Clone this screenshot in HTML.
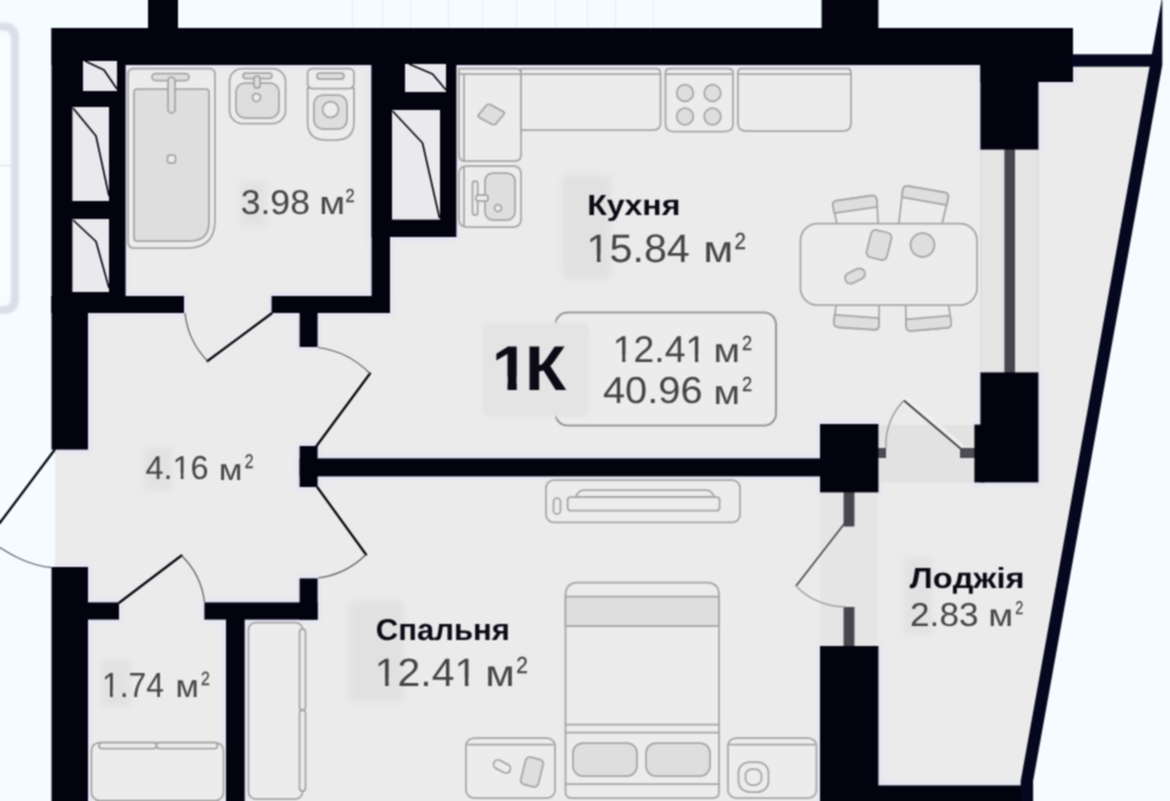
<!DOCTYPE html>
<html lang="uk">
<head>
<meta charset="utf-8">
<title>1K — 40.96 м²</title>
<style>
html,body{margin:0;padding:0;background:#f4fcff;overflow:hidden}
body{width:1170px;height:801px;position:relative;font-family:"Liberation Sans",sans-serif}
svg{display:block;position:absolute;left:0;top:0}
.w{fill:#03030f}
.f{fill:none;stroke:#a5a5a5;stroke-width:1.75;stroke-linejoin:round;stroke-linecap:round}
.ff{fill:#dedede;stroke:#a5a5a5;stroke-width:1.75;stroke-linejoin:round}
.fl{fill:#ececec;stroke:#a5a5a5;stroke-width:1.75;stroke-linejoin:round}
.dl{fill:none;stroke:#05050f;stroke-width:2.3;stroke-linecap:round}
.da{fill:none;stroke:#5c5c62;stroke-width:1.2}
.sl{fill:none;stroke:#06060f;stroke-width:1.7;stroke-linejoin:round}
text{font-kerning:none;text-rendering:geometricPrecision}
.t{font-family:"Liberation Sans",sans-serif;fill:#454548}
.tb{font-family:"Liberation Sans",sans-serif;font-weight:bold;fill:#0b0b16}
</style>
</head>
<body>
<svg width="1170" height="801" viewBox="0 0 1170 801">
<defs>
<filter id="b1" filterUnits="userSpaceOnUse" x="0" y="0" width="1170" height="801" color-interpolation-filters="sRGB"><feConvolveMatrix order="3" kernelMatrix="1 2 1 2 4 2 1 2 1" divisor="16" edgeMode="duplicate" preserveAlpha="true"/></filter>
<filter id="b2" x="-10%" y="-10%" width="120%" height="120%"><feGaussianBlur stdDeviation="1.5"/></filter>
<filter id="bL" filterUnits="userSpaceOnUse" x="-20" y="0" width="70" height="340"><feGaussianBlur stdDeviation="1.300"/></filter>
<filter id="b3" x="-30%" y="-30%" width="160%" height="160%"><feGaussianBlur stdDeviation="3"/></filter>
</defs>
<g id="scene" filter="url(#b1)">
<rect x="-5" y="-5" width="1180" height="811" fill="#f4fcff"/>
<defs>
<clipPath id="cf"><path d="M53 28 H1073 V60 H1151.5 L1021 783 V801 H53 V567 H55 V450 H53 Z"/></clipPath>
</defs>
<!-- background details: neighbouring balcony outline + faint grid -->
<g fill="none" stroke="#d9dee7" stroke-width="8" filter="url(#bL)">
<path d="M-10 26.5 H3 Q15 26.5 15 39 V298 Q15 310 3 310 H-10" fill="#f7fcff"/>
</g>
<path d="M-5 165.5 H12" stroke="#e3e7ee" stroke-width="1.5" fill="none"/>
<g stroke="#e6edf5" stroke-width="1" fill="none">
<path d="M352.5 0V28M382.5 0V28M410.5 0V28M448.5 0V28M482.5 0V28M516.5 0V28M555.5 0V28M587.5 0V28M615.5 0V28M653.5 0V28"/>
</g>
<!-- floor -->
<path d="M53 28 H1073 V60 H1151.5 L1021 783 V801 H53 V567 H55 V450 H53 Z" fill="#ebebeb"/>
<g clip-path="url(#cf)"><g fill="none" stroke="#e4e4f6" stroke-width="7" stroke-linejoin="round" filter="url(#b2)" opacity="0.9">
<rect x="148" y="-2" width="30" height="31"/>
<rect x="821.6" y="-2" width="56.8" height="31"/>
<rect x="51.5" y="28" width="1021.5" height="37"/>
<rect x="980.4" y="28" width="92.6" height="54"/>
<rect x="980.4" y="28" width="58" height="121.6"/>
<rect x="51.5" y="28" width="74.1" height="285"/>
<rect x="51.5" y="296" width="132.5" height="17"/>
<rect x="51.5" y="296" width="36.5" height="153.6"/>
<rect x="271.6" y="296" width="118.4" height="17"/>
<rect x="371.6" y="28" width="84.8" height="209"/>
<rect x="371.6" y="28" width="18.4" height="285"/>
<rect x="299.6" y="312" width="18" height="35"/>
<rect x="299.6" y="446" width="18" height="41"/>
<rect x="299.6" y="458.4" width="521" height="18"/>
<rect x="820" y="424" width="58.4" height="68.4"/>
<rect x="980.4" y="372.4" width="58" height="110"/>
<rect x="974.4" y="424.6" width="10" height="57.8"/>
<rect x="820" y="646" width="58.4" height="156"/>
<rect x="878" y="785.4" width="154.8" height="17"/>
<rect x="51.5" y="567" width="36.5" height="235"/>
<rect x="87" y="602.4" width="32" height="17.2"/>
<rect x="204.4" y="602.4" width="113.2" height="17.2"/>
<rect x="299.6" y="578.4" width="18" height="41.2"/>
<rect x="226" y="619" width="18.7" height="183"/>
</g></g>
<!-- window kitchen / loggia -->
<rect x="980.4" y="149" width="58" height="224" fill="#e4e4e4"/>
<path d="M980.9 149V373M1037.9 149V373" stroke="#d9d9d9" stroke-width="1" fill="none"/>
<rect x="1004.4" y="149" width="10.6" height="224" fill="#46464e"/>
<!-- balcony door kitchen -->
<rect x="879" y="425" width="96" height="57.4" fill="#e2e2e2"/>
<rect x="878" y="448" width="8" height="10" fill="#4c4c52"/>
<rect x="960" y="448" width="15" height="10" fill="#4c4c52"/>
<!-- balcony door bedroom -->
<rect x="820" y="492" width="57.5" height="155" fill="#e5e5e5"/>
<rect x="843.6" y="492" width="10.8" height="34.5" fill="#46464e"/>
<rect x="843.6" y="607" width="10.8" height="40" fill="#46464e"/>
<!-- bathroom fixtures -->
<g>
<path class="fl" d="M134 68.5 H209 Q215 68.5 215 74.5 V220 Q215 248 187 248 H134 Q128 248 128 242 V74.5 Q128 68.5 134 68.5 Z" fill="#e9e9e9"/>
<path class="ff" d="M137 89 H206 Q209 89 209 92 V222 Q209 241 190 241 H137 Q134 241 134 238 V92 Q134 89 137 89 Z"/>
<rect class="ff" x="152" y="73.5" width="37" height="7" rx="3.5"/>
<rect class="ff" x="168" y="77" width="7" height="36" rx="3.5"/>
<rect class="fl" x="167.500" y="155" width="8" height="8" rx="2.500"/>
<rect class="fl" x="229.5" y="68.5" width="56" height="55" rx="13"/>
<rect class="ff" x="236" y="83" width="43" height="35" rx="9"/>
<rect class="ff" x="243" y="73" width="29" height="5.5" rx="2.7"/>
<rect class="ff" x="254" y="76" width="6" height="12" rx="3"/>
<circle class="fl" cx="256.5" cy="97.5" r="4"/>
<path class="fl" d="M307.6 88 H354 V122 Q354 140 336 140 H325.6 Q307.6 140 307.6 122 Z"/>
<rect class="fl" x="307.6" y="68.5" width="46.4" height="20" rx="5"/>
<rect class="ff" x="317" y="73" width="27" height="6" rx="3"/>
<rect class="ff" x="314" y="95" width="33" height="34" rx="9"/>
<circle class="fl" cx="330.5" cy="109.5" r="8"/>
</g>
<!-- kitchen units -->
<g>
<path class="fl" d="M459 68.5 H516 Q521 68.5 521 73 V155 Q521 161 515 161 H465 Q459 161 459 155 Z"/>
<path class="fl" d="M521 68.5 H656 Q660.5 68.5 660.5 73 V123 Q660.5 130 653 130 H521 Z"/>
<path class="f" d="M459 74 H660.5 M464 74 V161"/>
<rect class="ff" x="-9.800" y="-8.300" width="19.600" height="16.600" rx="3" transform="translate(491.200 114.500) rotate(28) skewX(-12)"/>
<path class="fl" d="M670 68.5 H728 Q733 68.5 733 73 V124 Q733 131.5 725 131.5 H673.5 Q665.5 131.5 665.5 124 V73 Q665.5 68.5 670 68.5 Z"/>
<path class="f" d="M665.5 74 H733"/>
<circle class="ff" cx="685" cy="93" r="8.3"/><circle class="ff" cx="712.5" cy="93" r="8.3"/>
<circle class="ff" cx="685" cy="116.5" r="8.3"/><circle class="ff" cx="712.5" cy="116.5" r="8.3"/>
<path class="fl" d="M742 68.5 H847 Q851 68.5 851 73 V123 Q851 131 843 131 H746 Q738 131 738 123 V73 Q738 68.5 742 68.5 Z"/>
<path class="f" d="M738 74 H851"/>
<rect class="fl" x="459" y="166" width="62" height="61" rx="7"/>
<path class="f" d="M464 167 V226"/>
<rect class="ff" x="485" y="173" width="30" height="47" rx="8"/>
<rect class="fl" x="472.5" y="181" width="5.2" height="34" rx="2.6"/>
<rect class="fl" x="476" y="195" width="12" height="6" rx="2"/>
<circle class="fl" cx="498" cy="208" r="3.5"/>
</g>
<!-- dining table -->
<g>
<g transform="translate(856 211) rotate(-8) scale(0.96 1)">
<path class="fl" d="M-21 16 L-23 -8 Q-23.500 -13 -18 -13 H18 Q23.500 -13 23 -8 L21 16"/>
<path class="ff" d="M-23 -8 Q-23.500 -13 -18 -13 H18 Q23.500 -13 23 -8 L22.700 -1 H-22.700 Z"/>
</g>
<g transform="translate(923 208) rotate(10)">
<path class="fl" d="M-21 22 L-23 -14 Q-23.500 -19 -18 -19 H18 Q23.500 -19 23 -14 L21 22"/>
<path class="ff" d="M-23 -14 Q-23.500 -19 -18 -19 H18 Q23.500 -19 23 -14 L22.700 -7 H-22.700 Z"/>
</g>
<g transform="translate(857 315.500) rotate(4) scale(0.96 1)">
<path class="fl" d="M-22 -16 L-23.500 8 Q-24 13 -18 13 H18 Q24 13 23.500 8 L22 -16"/>
<path class="ff" d="M-23.500 8 Q-24 13 -18 13 H18 Q24 13 23.500 8 L23.200 1 H-23.200 Z"/>
</g>
<g transform="translate(928 316.500) rotate(-5) scale(0.96 1)">
<path class="fl" d="M-22 -16 L-23.500 8 Q-24 13 -18 13 H18 Q24 13 23.500 8 L22 -16"/>
<path class="ff" d="M-23.500 8 Q-24 13 -18 13 H18 Q24 13 23.500 8 L23.200 1 H-23.200 Z"/>
</g>
<rect class="fl" x="800.5" y="223.600" width="176.500" height="81.400" rx="17"/>
<rect class="ff" x="-10.500" y="-14" width="21" height="28" rx="5" transform="translate(879 245) rotate(14)"/>
<circle class="ff" cx="922.500" cy="245" r="12"/>
<rect class="ff" x="-10.500" y="-5.500" width="21" height="11" rx="5.500" transform="translate(855 276) rotate(-26)"/>
</g>
<!-- summary box -->
<rect x="555.500" y="312.500" width="220.500" height="113" rx="12" fill="#ececec" stroke="#989898" stroke-width="2.100"/>
<!-- tv unit -->
<g>
<rect class="fl" x="546" y="480" width="194" height="42.400" rx="8"/>
<path class="fl" d="M576 497 Q578 490 584 490 H706 Q712 490 714 497 Z"/>
<rect class="fl" x="567.600" y="497" width="152" height="13.500" rx="3"/>
<rect class="fl" x="553.500" y="498" width="7" height="16" rx="3.500"/>
</g>
<!-- bed -->
<g>
<path class="fl" d="M565.500 792 V595 Q565.500 582.500 578 582.500 H706.500 Q719 582.500 719 595 V792 Q719 798 713 798 H571.500 Q565.500 798 565.500 792 Z"/>
<rect class="ff" x="565.500" y="596.500" width="153.500" height="29.500"/>
<path class="f" d="M565.500 724.600 H719 M565.500 732.600 H719 M565.500 784 H719"/>
<rect class="ff" x="573" y="743" width="64" height="33" rx="10"/>
<rect class="ff" x="646" y="743" width="64" height="33" rx="10"/>
<rect class="fl" x="466" y="738" width="89" height="60" rx="8"/>
<path class="f" d="M468 744.500 H553"/>
<rect class="fl" x="-9" y="-4.500" width="18" height="9" rx="4.500" transform="translate(502 766.500) rotate(28)"/>
<rect class="ff" x="-9" y="-14" width="18" height="28" rx="4" transform="translate(532 772) rotate(14)"/>
<rect class="fl" x="728" y="738" width="88.400" height="60" rx="8"/>
<path class="f" d="M730 744.500 H814.500"/>
<rect class="fl" x="738.500" y="762" width="30" height="30" rx="11"/>
<rect class="fl" x="745.500" y="769" width="16" height="16" rx="6.500"/>
</g>
<!-- wardrobe + bench -->
<g>
<rect class="fl" x="248.500" y="622.500" width="54" height="176.500" rx="7"/>
<rect class="fl" x="299.500" y="629" width="6" height="81" rx="3"/>
<rect class="fl" x="299.500" y="710" width="6" height="81" rx="3"/>
<rect class="fl" x="91.500" y="742.500" width="132" height="58" rx="8" stroke="#a4a4ad"/>
<rect class="fl" x="99" y="742.500" width="57.500" height="6" rx="3"/>
<rect class="fl" x="156.500" y="742.500" width="61" height="6" rx="3"/>
</g>
<!-- walls -->
<g class="w">
<rect x="148" y="-2" width="30" height="31"/>
<rect x="821.6" y="-2" width="56.8" height="31"/>
<rect x="51.5" y="28" width="1021.5" height="37"/>
<rect x="980.4" y="28" width="92.6" height="54"/>
<rect x="980.4" y="28" width="58" height="121.6"/>
<rect x="51.5" y="28" width="74.1" height="285"/>
<rect x="51.5" y="296" width="132.5" height="17"/>
<rect x="51.5" y="296" width="36.5" height="153.6"/>
<rect x="271.6" y="296" width="118.4" height="17"/>
<rect x="371.6" y="28" width="84.8" height="209"/>
<rect x="371.6" y="28" width="18.4" height="285"/>
<rect x="299.6" y="312" width="18" height="35"/>
<rect x="299.6" y="446" width="18" height="41"/>
<rect x="299.6" y="458.4" width="521" height="18"/>
<rect x="820" y="424" width="58.4" height="68.4"/>
<rect x="980.4" y="372.4" width="58" height="110"/>
<rect x="974.4" y="424.6" width="10" height="57.8"/>
<rect x="820" y="646" width="58.4" height="156"/>
<rect x="878" y="785.4" width="154.8" height="17"/>
<rect x="51.5" y="567" width="36.5" height="235"/>
<rect x="87" y="602.4" width="32" height="17.2"/>
<rect x="204.4" y="602.4" width="113.2" height="17.2"/>
<rect x="299.6" y="578.4" width="18" height="41.2"/>
<rect x="226" y="619" width="18.7" height="183"/>
</g>
<rect x="1072" y="54.300" width="80" height="12.400" fill="#05081e"/>
<path d="M1162 -2 L1162.300 -2 L1162.300 65 L1033.100 781 L1033.100 801 L1020.700 801 L1020.700 781 Z" fill="#05081e"/>
<!-- shafts -->
<g fill="#e9e9ee">
<rect x="83" y="61" width="34" height="30"/>
<rect x="72.4" y="107" width="36.6" height="94"/>
<rect x="72.4" y="219" width="36.6" height="73"/>
<rect x="405" y="64" width="41" height="28"/>
<rect x="392" y="110" width="48" height="109.6"/>
</g>
<g class="sl">
<path d="M85 61 L104 70 L117 89"/>
<path d="M73 108 L96 136 L109 196"/>
<path d="M73 220 L96 241.5 L109 288"/>
<path d="M409 64 L432.5 74 L446 90"/>
<path d="M392.5 111 L422.5 143 L439.5 218"/>
</g>
<!-- doors -->
<g>
<path class="dl" d="M54.500 450 L-17.500 546"/>
<path class="da" d="M-10 541 C5 551 25 565 52 567.600"/>
<path class="dl" d="M271.500 313.500 L207.500 361"/>
<path class="da" d="M207.500 361 A81 81 0 0 1 185 313"/>
<path class="dl" d="M316.500 446 L370 373.500"/>
<path class="da" d="M370 373.500 A90 90 0 0 0 318 347.500"/>
<path class="dl" d="M317.500 487.500 L366 554.500"/>
<path class="da" d="M366 554.500 A83 83 0 0 1 318 578"/>
<path class="dl" d="M119.500 602.500 L181.500 555.500"/>
<path class="da" d="M181.500 555.500 A78 78 0 0 1 204.500 602"/>
<path d="M963 446.500 L906 398" fill="none" stroke="#f1f1f1" stroke-width="3.500" opacity="0.850"/>
<path d="M961 449 L904 400.500" fill="none" stroke="#3e3e44" stroke-width="1.700"/>
<path d="M904 400.500 A62 62 0 0 0 886 448" fill="none" stroke="#8e8e92" stroke-width="1.200"/>
<path d="M844.500 523.500 L796 586" fill="none" stroke="#4a4a50" stroke-width="1.700"/>
<path d="M796 586 Q815 606 846 607" fill="none" stroke="#9a9a9e" stroke-width="1.200"/>
</g>
<!-- soft patches behind labels -->
<g filter="url(#b3)" fill="#e0e0e0">
<rect x="240" y="181" width="26" height="45" rx="4" opacity="0.800"/>
<rect x="562" y="175" width="49" height="104" rx="6" opacity="0.900"/>
<rect x="144" y="447" width="28" height="44" rx="4" opacity="0.800"/>
<rect x="101" y="660" width="30" height="47" rx="4" opacity="0.800"/>
<rect x="349" y="601" width="55" height="101" rx="6" opacity="0.900"/>
<rect x="904" y="557" width="28" height="78" rx="4" opacity="0.800"/>
</g>
<rect x="482" y="322" width="107.500" height="95" rx="7" fill="#e4e4e4" filter="url(#b2)"/>
<!-- labels -->
<defs>
<clipPath id="n1"><path clip-rule="evenodd" d="M-5 -39.72 H104.39 V5.96 H-5 Z M1.79 -7.94 H10.03 V3.97 H1.79 Z M13.50 -7.94 H21.25 V3.97 H13.50 Z"/></clipPath>
<clipPath id="c1"><path clip-rule="evenodd" d="M-5 -63.13 H80.00 V9.47 H-5 Z M1.89 -14.20 H14.68 V6.31 H1.89 Z M23.36 -14.20 H34.41 V6.31 H23.36 Z"/></clipPath>
<clipPath id="n3"><path clip-rule="evenodd" d="M-5 -37.28 H98.28 V5.59 H-5 Z M1.68 -7.46 H9.41 V3.73 H1.68 Z M12.67 -7.46 H19.94 V3.73 H12.67 Z M74.23 -7.46 H81.96 V3.73 H74.23 Z M85.23 -7.46 H92.50 V3.73 H85.23 Z"/></clipPath>
<clipPath id="n4"><path clip-rule="evenodd" d="M-5 -33.22 H69.65 V4.98 H-5 Z M29.20 -6.64 H36.09 V3.32 H29.20 Z M39.00 -6.64 H45.47 V3.32 H39.00 Z"/></clipPath>
<clipPath id="n5"><path clip-rule="evenodd" d="M-5 -34.91 H72.95 V5.24 H-5 Z M1.57 -6.98 H8.81 V3.49 H1.57 Z M11.87 -6.98 H18.68 V3.49 H11.87 Z"/></clipPath>
<clipPath id="n6"><path clip-rule="evenodd" d="M-5 -39.57 H104.03 V5.94 H-5 Z M1.78 -7.91 H9.99 V3.96 H1.78 Z M13.45 -7.91 H21.17 V3.96 H13.45 Z M78.80 -7.91 H87.01 V3.96 H78.80 Z M90.47 -7.91 H98.19 V3.96 H90.47 Z"/></clipPath>
</defs>
<g>
<text class="t" transform="translate(240.66 214.16) scale(1.0323 1)" font-size="34.49">3.98</text>
<text class="t" transform="translate(319.27 214.20) scale(1.1744 1)" font-size="32.04">м</text>
<text class="t" transform="translate(345.58 202.10) scale(0.8844 1)" font-size="18.64" stroke="#454548" stroke-width="0.3">2</text>
<text class="tb" transform="translate(587.14 215.40) scale(1.1022 1)" font-size="29.09">Кухня</text>
<text class="t" transform="translate(586.48 262.10) scale(1.0399 1)" font-size="39.72" clip-path="url(#n1)">15.84</text>
<text class="t" transform="translate(703.14 262.20) scale(1.1689 1)" font-size="37.35">м</text>
<text class="t" transform="translate(734.57 249.00) scale(0.8895 1)" font-size="23.23" stroke="#454548" stroke-width="0.3">2</text>
<text class="tb" transform="translate(491.85 390.30) scale(1.0670 1)" font-size="63.13" x="0 31.12" clip-path="url(#c1)">1К</text>
<text class="t" transform="translate(612.75 362.00) scale(1.0033 1)" font-size="37.28" clip-path="url(#n3)">12.41</text>
<text class="t" transform="translate(713.50 362.00) scale(1.1421 1)" font-size="33.74">м</text>
<text class="t" transform="translate(742.09 349.70) scale(0.8960 1)" font-size="20.36" stroke="#454548" stroke-width="0.3">2</text>
<text class="t" transform="translate(602.90 403.33) scale(1.0646 1)" font-size="37.46">40.96</text>
<text class="t" transform="translate(713.50 404.00) scale(1.1421 1)" font-size="33.74">м</text>
<text class="t" transform="translate(742.09 391.20) scale(0.8960 1)" font-size="20.36" stroke="#454548" stroke-width="0.3">2</text>
<text class="t" transform="translate(145.47 479.37) scale(0.9769 1)" font-size="33.22" clip-path="url(#n4)">4.16</text>
<text class="t" transform="translate(218.78 479.70) scale(1.1525 1)" font-size="29.95">м</text>
<text class="t" transform="translate(244.71 467.90) scale(0.7998 1)" font-size="19.78" stroke="#454548" stroke-width="0.3">2</text>
<text class="t" transform="translate(101.98 696.90) scale(0.9116 1)" font-size="34.91" clip-path="url(#n5)">1.74</text>
<text class="t" transform="translate(175.52 696.90) scale(1.0667 1)" font-size="31.85">м</text>
<text class="t" transform="translate(201.10 685.10) scale(0.8414 1)" font-size="19.07" stroke="#454548" stroke-width="0.3">2</text>
<text class="tb" transform="translate(375.76 640.40) scale(1.0269 1)" font-size="30.25">Спальня</text>
<text class="t" transform="translate(374.81 686.20) scale(1.0351 1)" font-size="39.57" clip-path="url(#n6)">12.41</text>
<text class="t" transform="translate(485.30 686.20) scale(1.1611 1)" font-size="36.97">м</text>
<text class="t" transform="translate(516.26 673.20) scale(0.8990 1)" font-size="23.23" stroke="#454548" stroke-width="0.3">2</text>
<text class="tb" transform="translate(909.84 587.88) scale(1.1279 1)" font-size="28.92">Лоджія</text>
<text class="t" transform="translate(910.04 625.67) scale(1.0551 1)" font-size="33.36">2.83</text>
<text class="t" transform="translate(988.17 625.60) scale(1.1632 1)" font-size="31.09">м</text>
<text class="t" transform="translate(1015.17 614.40) scale(0.7843 1)" font-size="18.49" stroke="#454548" stroke-width="0.3">2</text>
</g>
</g>
</svg>
</body>
</html>
